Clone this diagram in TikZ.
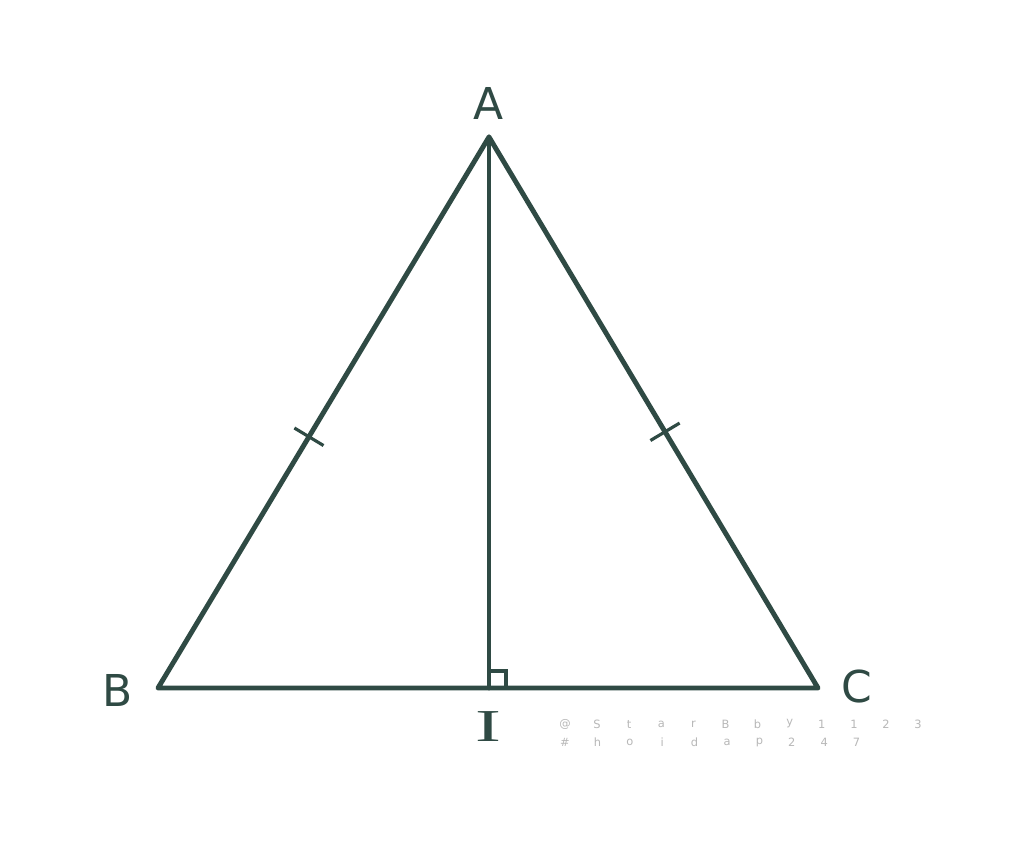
\documentclass[tikz,border=0pt]{standalone}
\usepackage{fontspec}
\setmainfont{DejaVu Sans}
\newfontfamily\labserif{Liberation Serif}
\usetikzlibrary{calc}
\definecolor{lineclr}{HTML}{2F4A44}
\definecolor{wmclr}{HTML}{B8B8B8}
\begin{document}
\begin{tikzpicture}[x=0.02cm,y=-0.02cm,
  side/.style={draw=lineclr,line width=2.8pt,line cap=round,line join=round},
  tick/.style={draw=lineclr,line width=1.8pt},
  lab/.style={text=lineclr,font=\fontsize{25}{28}\selectfont,inner sep=0pt},
  wm/.style={text=wmclr,font=\fontsize{6.5}{7}\selectfont,inner sep=0pt}]
\useasboundingbox[fill=white] (0,0) rectangle (1024,860);
\coordinate (A) at (489,137);
\coordinate (B) at (158,688);
\coordinate (C) at (818,688);
\coordinate (I) at (489,688);
% right angle mark
\draw[draw=lineclr,line width=1.8pt] ($(I)+(0,-17)$) -- ($(I)+(17,-17)$) -- ($(I)+(17,0)$);
\draw[side] (B) -- (C) -- (A) -- cycle;
\draw[side] (A) -- (I);
% equal ticks
\path (A) -- (B) coordinate[pos=0.544] (m1);
\path (A) -- (C) coordinate[pos=0.535] (m2);
\draw[tick] ($(m1)!0.34cm!90:(A)$) -- ($(m1)!0.34cm!-90:(A)$);
\draw[tick] ($(m2)!0.34cm!90:(A)$) -- ($(m2)!0.34cm!-90:(A)$);
% labels
\node[lab] (lA) at (489,103) {A};
\node[lab] (lB) at (118,690) {B};
\node[lab] (lC) at (857,686) {C};
\node[lab,font=\labserif\fontsize{26}{30}\selectfont,xscale=1.7] (lI) at (488,727) {I};
% watermark
\foreach \ch [count=\k] in {@,S,t,a,r,B,b,y,1,1,2,3}
  \node[wm] (wa\k) at ({565+32.1*(\k-1)},724) {\ch};
\foreach \ch [count=\k] in {\#,h,o,i,d,a,p,2,4,7}
  \node[wm] (wb\k) at ({565+32.4*(\k-1)},742) {\ch};
\end{tikzpicture}
\end{document}
